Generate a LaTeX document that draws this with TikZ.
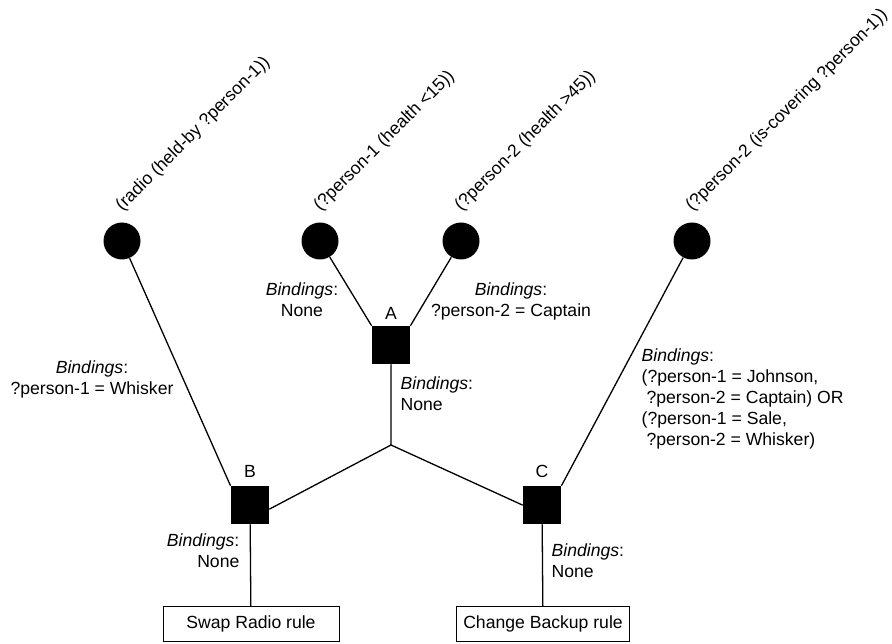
\documentclass[tikz,border=0pt]{standalone}
\usepackage{fontspec}
\setmainfont{Liberation Sans}
\usetikzlibrary{positioning}

\begin{document}
\begin{tikzpicture}[x=1pt, y=-1pt, line width=1.3pt, line cap=round,
  font=\fontsize{17.6}{21}\selectfont,
  cond/.style={circle, fill=black, minimum size=37pt, inner sep=0pt},
  joinbox/.style={rectangle, fill=black, minimum size=38pt, inner sep=0pt},
  rulebox/.style={draw, line width=1pt, minimum height=35pt, inner sep=0pt},
  pattern/.style={rotate=45, anchor=south west, inner sep=0pt},
  bind/.style={inner sep=0pt, anchor=north}]
  \useasboundingbox (0,0) rectangle (892,644);
  % conditions
  \foreach \n/\x/\t in {c1/122/{(radio (held-by ?person-1))}, c2/320/{(?person-1 (health <15))}, c3/461/{(?person-2 (health >45))}, c4/692/{(?person-2 (is-covering ?person-1))}}
    {\node[cond] (\n) at (\x,241) {};
     \node[pattern] (t\n) at (\x+3,215) {\t};}
  % join nodes
  \node[joinbox] (sqA) at (391,345) {};
  \node[joinbox] (sqB) at (250,505) {};
  \node[joinbox] (sqC) at (542,505) {};
  \node[anchor=south, inner sep=0pt] (lA) at (391,320) {A};
  \node[anchor=south, inner sep=0pt] (lB) at (250,478) {B};
  \node[anchor=south, inner sep=0pt] (lC) at (542,478) {C};
  \coordinate (j) at (391,445);
  % rules
  \node[rulebox, minimum width=176pt] (swap) at (251,624) {Swap Radio rule};
  \node[rulebox, minimum width=173pt] (change) at (543,624) {Change Backup rule};
  % connectors
  \draw (c1) -- (sqB.north west);
  \draw (c2) -- (sqA.north west);
  \draw (c3) -- (sqA.north east);
  \draw (c4) -- (sqC.north east);
  \draw (sqA) -- (j) -- ([yshift=-4pt]sqB.east);
  \draw (j) -- (sqC.west);
  \draw (sqB) -- (swap);
  \draw (sqC) -- (change);
  % bindings
  \node[bind, align=center] (b1) at (302,282) {\textit{Bindings}:\\None};
  \node[bind, align=center] (b2) at (511,282) {\textit{Bindings}:\\?person-2 = Captain};
  \node[bind, align=left, anchor=north west] (b3) at (400,376) {\textit{Bindings}:\\None};
  \node[bind, align=center] (b4) at (92,360) {\textit{Bindings}:\\?person-1 = Whisker};
  \node[bind, align=right, anchor=north east] (b5) at (240,533) {\textit{Bindings}:\\None};
  \node[bind, align=left, anchor=north west] (b6) at (551,543) {\textit{Bindings}:\\None};
  \node[bind, align=left, anchor=north west] (b7) at (641,348) {\textit{Bindings}:\\(?person-1 = Johnson,\\\ ?person-2 = Captain) OR\\(?person-1 = Sale,\\\ ?person-2 = Whisker)};
\end{tikzpicture}
\end{document}
